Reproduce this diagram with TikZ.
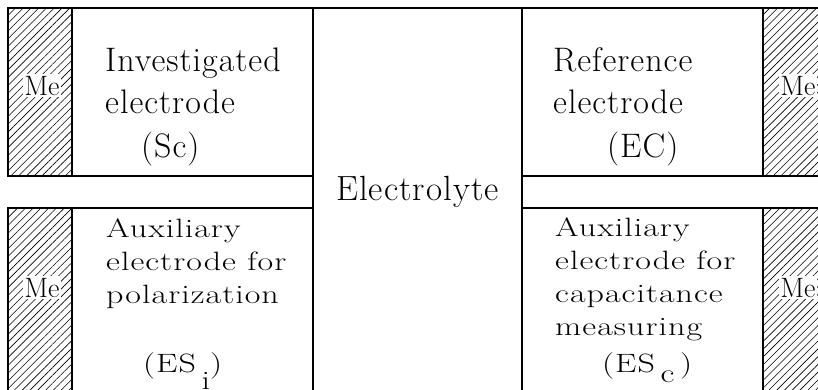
\documentclass[tikz,border=0pt]{standalone}
\usepackage{fontspec}
\newfontfamily\widefont{Latin Modern Roman}[LetterSpace=3]
\usetikzlibrary{
    patterns.meta,
    positioning
}

\begin{document}
\begin{tikzpicture}[x=1pt, y=-1pt,
        cell/.style={draw, line width=1.5pt, inner sep=0pt, outer sep=0pt, anchor=north west},
        metal/.style={cell, pattern={Lines[angle=45, distance=5.5pt, line width=0.6pt]}},
        melabel/.style={fill=white, inner sep=1.5pt, anchor=base, font=\fontsize{28}{28}\selectfont},
        electxt/.style={align=left, anchor=base west, inner sep=0pt, font=\widefont\fontsize{34}{42}\selectfont},
        squeezed/.style={electxt, yscale=0.78}]

    \useasboundingbox (0,0) rectangle (818,389);
    \clip (0,0) rectangle (818,389);

    % upper row
    \node[metal, minimum width=64pt, minimum height=168pt] (msc) at (8,8) {};
    \node[cell, minimum width=241pt, minimum height=168pt, right=0pt of msc.north east, anchor=north west] (sc) {};
    \node[cell, minimum width=209pt, minimum height=400pt, right=0pt of sc.north east, anchor=north west] (ely) {};
    \node[cell, minimum width=241pt, minimum height=168pt, right=0pt of ely.north east, anchor=north west] (ec) {};
    \node[metal, minimum width=64pt, minimum height=168pt, right=0pt of ec.north east, anchor=north west] (mec) {};

    % lower row
    \node[metal, minimum width=64pt, minimum height=200pt, below=32pt of msc.south west, anchor=north west] (mesi) {};
    \node[cell, minimum width=241pt, minimum height=200pt, right=0pt of mesi.north east, anchor=north west] (esi) {};
    \node[cell, minimum width=241pt, minimum height=200pt, below=32pt of ec.south west, anchor=north west] (esc) {};
    \node[metal, minimum width=64pt, minimum height=200pt, right=0pt of esc.north east, anchor=north west] (mesc) {};

    % metal labels
    \node[melabel] (mesclbl) at (42,95) {Me};
    \node[melabel] (meeclbl) at (798,95) {Me};
    \node[melabel] (mesilbl) at (42,297) {Me};
    \node[melabel] (meesclbl) at (798,297) {Me};

    % texts (anchored at the baseline of the last line)
    \node[electxt] (sctxt) at (105,113) {Investigated\\electrode};
    \node[electxt] (sctag) at (141,157) {(Sc)};
    \node[electxt] (ectxt) at (553,113) {Reference\\electrode};
    \node[electxt] (ectag) at (607,157) {(EC)};
    \node[anchor=base, inner sep=0pt, font=\widefont\fontsize{35}{35}\selectfont] (elytxt) at (417.5,200) {Electrolyte};
    \node[squeezed] (esitxt) at (106,303) {Auxiliary\\electrode for\\polarization};
    \node[squeezed] (esitag) at (143,372) {(ES\,\raisebox{-22pt}{i})};
    \node[squeezed] (esctxt) at (555,335) {Auxiliary\\electrode for\\capacitance\\measuring};
    \node[squeezed] (esctag) at (602,372) {(ES\,\raisebox{-14pt}{c}\,)};
\end{tikzpicture}
\end{document}
